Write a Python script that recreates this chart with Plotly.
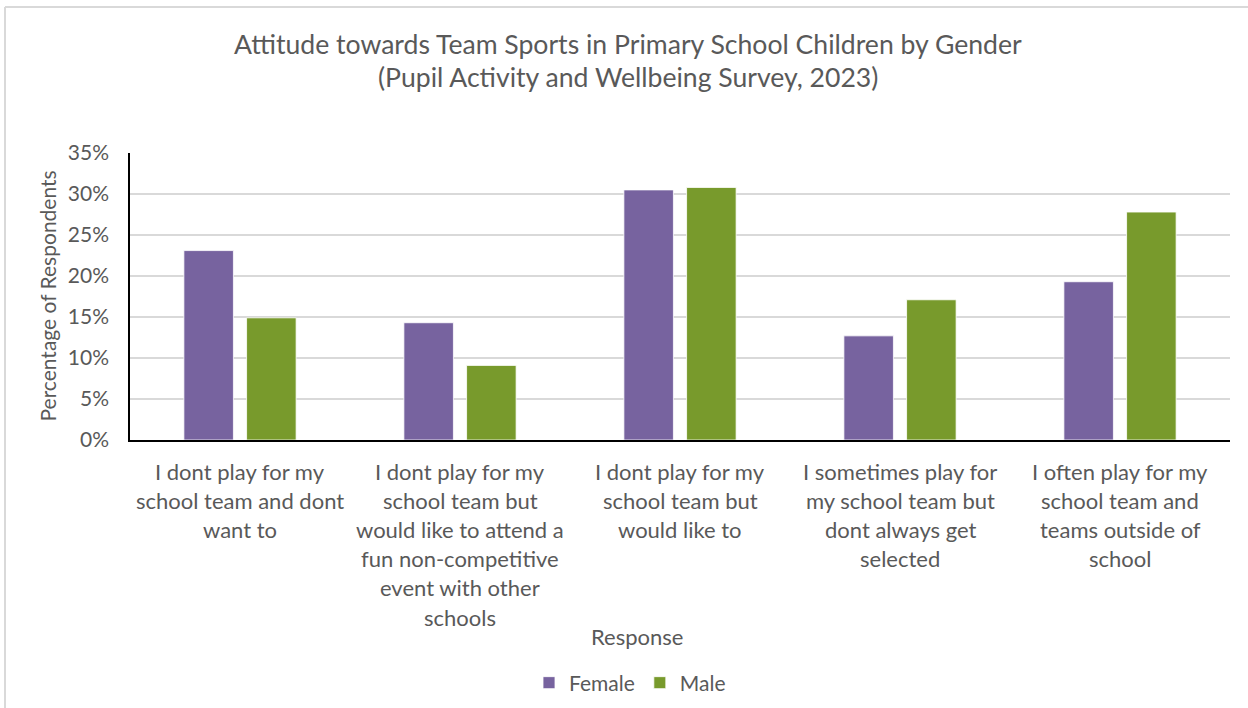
import plotly.graph_objects as go

# Survey responses and share of respondents (%) by gender
categories = [
    "I dont play for my school team and dont want to",
    "I dont play for my school team but would like to attend a fun non-competitive event with other schools",
    "I dont play for my school team but would like to",
    "I sometimes play for my school team but dont always get selected",
    "I often play for my school team and teams outside of school",
]
category_lines = [
    ["I dont play for my", "school team and dont", "want to"],
    ["I dont play for my", "school team but", "would like to attend a",
     "fun non-competitive", "event with other", "schools"],
    ["I dont play for my", "school team but", "would like to"],
    ["I sometimes play for", "my school team but", "dont always get", "selected"],
    ["I often play for my", "school team and", "teams outside of", "school"],
]
female = [23.1, 14.3, 30.5, 12.7, 19.3]
male = [14.9, 9.1, 30.8, 17.1, 27.8]
y_ticks = [0, 5, 10, 15, 20, 25, 30, 35]
title_lines = ["Attitude towards Team Sports in Primary School Children by Gender",
               "(Pupil Activity and Wellbeing Survey, 2023)"]

FONT = "Lato"
GREY = "#595959"
PURPLE = "#77639F"
GREEN = "#789A2C"

fig = go.Figure()
fig.add_trace(go.Bar(name="Female", x=categories, y=female,
                     marker=dict(color=PURPLE, line=dict(color="#ffffff", width=0.8))))
fig.add_trace(go.Bar(name="Male", x=categories, y=male,
                     marker=dict(color=GREEN, line=dict(color="#ffffff", width=0.8))))

annotations = []
# multi-line category labels beneath the axis
for cat, lines in zip(categories, category_lines):
    for i, line in enumerate(lines):
        annotations.append(dict(
            x=cat, xref="x", xanchor="center", y=0, yref="paper", yanchor="middle",
            yshift=-(31 + i * 29.2), text=line, showarrow=False,
            font=dict(family=FONT, size=22, color=GREY)))

# axis titles
annotations.append(dict(
    x=(637 - 130) / 1100, xref="paper", xanchor="center", y=0, yref="paper",
    yanchor="middle", yshift=-196, text="Response", showarrow=False,
    font=dict(family=FONT, size=22, color=GREY)))
annotations.append(dict(
    x=0, xref="paper", xanchor="center", xshift=-83, y=0.5, yref="paper",
    yanchor="middle", textangle=-90, text="Percentage of Respondents", showarrow=False,
    font=dict(family=FONT, size=21, color=GREY)))

# two-line chart title
for i, line in enumerate(title_lines):
    annotations.append(dict(
        x=(628 - 130) / 1100, xref="paper", xanchor="center", y=1, yref="paper",
        yanchor="middle", yshift=153 - 44 - i * 33, text=line, showarrow=False,
        font=dict(family=FONT, size=26.6, color=GREY)))

fig.update_layout(
    width=1248, height=708,
    margin=dict(l=130, r=18, t=153, b=268, autoexpand=False),
    paper_bgcolor="white", plot_bgcolor="white",
    barmode="group", bargap=0.43, bargroupgap=0.21,
    font=dict(family=FONT, color=GREY),
    showlegend=True,
    legend=dict(orientation="h", x=(630 - 130) / 1100, xanchor="center",
                y=-243 / 287, yanchor="middle",
                font=dict(family=FONT, size=21, color=GREY),
                traceorder="normal"),
    annotations=annotations,
    shapes=[
        dict(type="line", xref="paper", yref="paper", x0=-125 / 1100, x1=1118 / 1100,
             y0=1 + 146 / 287, y1=1 + 146 / 287, line=dict(color="#d9d9d9", width=2)),
        dict(type="line", xref="paper", yref="paper", x0=-125 / 1100, x1=-125 / 1100,
             y0=1 + 146 / 287, y1=-268 / 287, line=dict(color="#d9d9d9", width=2)),
    ],
)
fig.update_xaxes(showticklabels=False, showline=True, linecolor="#000000", linewidth=2,
                 ticks="", showgrid=False, zeroline=False)
fig.update_yaxes(range=[0, 35], tickvals=y_ticks, ticktext=[f"{v}%" for v in y_ticks],
                 showline=True, linecolor="#000000", linewidth=1.5,
                 showgrid=True, gridcolor="#d9d9d9", gridwidth=1.5, zeroline=False,
                 ticks="outside", ticklen=15, tickcolor="rgba(0,0,0,0)",
                 tickfont=dict(family=FONT, size=21, color=GREY))

fig.write_html("out.html")
